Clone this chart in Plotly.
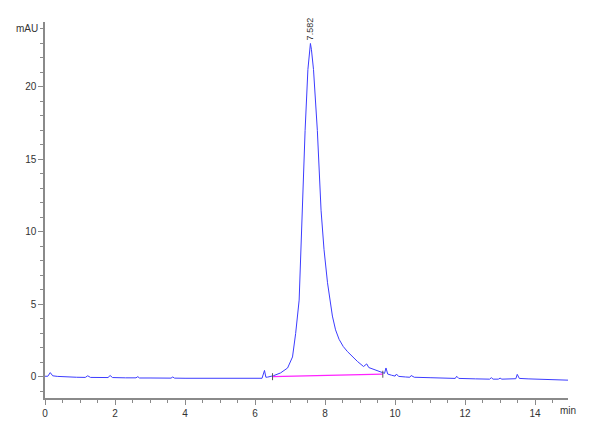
import plotly.graph_objects as go

# Chromatogram trace (time in min, signal in mAU)
time_min = [0.0, 0.08, 0.15, 0.22, 0.35, 0.6, 0.9, 1.15, 1.22, 1.3, 1.6, 1.8, 1.86, 1.93,
            2.3, 2.6, 2.65, 2.7, 3.0, 3.3, 3.6, 3.65, 3.7, 4.0, 4.5, 5.0, 5.5, 5.9, 6.2,
            6.27, 6.31, 6.36, 6.45, 6.53, 6.73, 6.93, 7.07, 7.16, 7.26, 7.31, 7.335, 7.39,
            7.43, 7.51, 7.55, 7.582, 7.61, 7.67, 7.78, 7.886, 7.97, 8.07, 8.21, 8.30, 8.40,
            8.52, 8.64, 8.80, 8.93, 9.1, 9.19, 9.25, 9.46, 9.65, 9.70, 9.74, 9.79, 9.9,
            10.0, 10.04, 10.1, 10.3, 10.42, 10.46, 10.55, 11.0, 11.5, 11.72, 11.76, 11.82,
            12.3, 12.7, 12.75, 12.8, 12.95, 13.0, 13.05, 13.3, 13.45, 13.49, 13.55, 13.8,
            14.0, 14.5, 14.94]
signal_mau = [0.05, 0.05, 0.3, 0.08, 0.04, 0.0, -0.02, -0.03, 0.08, -0.03, -0.04, -0.04, 0.1,
              -0.04, -0.06, -0.06, 0.02, -0.07, -0.07, -0.08, -0.08, 0.0, -0.08, -0.09, -0.1,
              -0.1, -0.1, -0.1, -0.09, 0.45, -0.02, -0.01, 0.02, 0.09, 0.28, 0.62, 1.38, 3.0,
              5.3, 8.8, 11.5, 14.5, 17.0, 21.2, 22.5, 23.0, 22.6, 21.2, 17.0, 11.5, 8.8, 6.5,
              4.2, 3.25, 2.6, 2.1, 1.75, 1.35, 1.06, 0.72, 0.9, 0.65, 0.48, 0.28, 0.25, 0.62,
              0.2, 0.12, 0.06, 0.2, 0.04, 0.0, -0.02, 0.1, -0.02, -0.05, -0.08, -0.1, 0.05,
              -0.1, -0.13, -0.15, -0.05, -0.15, -0.15, -0.08, -0.15, -0.14, -0.12, 0.18, -0.1,
              -0.13, -0.15, -0.18, -0.22]

# Integration baseline
base_t = [6.50, 9.65]
base_v = [0.02, 0.19]

peak_rt = 7.582
peak_h = 23.0
peak_label = "7.582"

x_ticks = [0, 2, 4, 6, 8, 10, 12, 14]
y_ticks = [0, 5, 10, 15, 20]

axis_col = "#8a8a8a"
txt_col = "#333333"

fig = go.Figure()
fig.add_trace(go.Scatter(x=time_min, y=signal_mau, mode="lines",
                         line=dict(color="#3c3cff", width=1), hoverinfo="skip"))
fig.add_trace(go.Scatter(x=base_t, y=base_v, mode="lines+markers",
                         line=dict(color="#ff22ff", width=1.3),
                         marker=dict(symbol="line-ns", size=5, color="#555555",
                                     line=dict(width=1, color="#555555")),
                         hoverinfo="skip"))

fig.add_annotation(x=peak_rt, y=peak_h, text=peak_label, textangle=-90,
                   showarrow=False, yanchor="bottom", xanchor="center", yshift=1,
                   font=dict(family="Liberation Sans, Arial", size=9, color=txt_col))
fig.add_annotation(xref="paper", x=0, y=24.0, text="mAU", showarrow=False,
                   xanchor="right", xshift=-5,
                   font=dict(family="Liberation Sans, Arial", size=10, color=txt_col))
fig.add_annotation(xref="paper", x=1.0, yref="paper", y=0, text="min", showarrow=False,
                   xanchor="center", yanchor="top", xshift=0, yshift=-5,
                   font=dict(family="Liberation Sans, Arial", size=10, color=txt_col))

fig.update_layout(
    width=600, height=440,
    margin=dict(l=45, r=32, t=22, b=42),
    paper_bgcolor="white", plot_bgcolor="white",
    showlegend=False,
    font=dict(family="Liberation Sans, Arial", size=10, color=txt_col),
    xaxis=dict(range=[0, 14.94], tickvals=x_ticks, ticktext=[str(v) for v in x_ticks],
               showgrid=False, zeroline=False, showline=True, linecolor=axis_col,
               linewidth=1.5, ticks="outside", ticklen=5, tickcolor=axis_col, tickwidth=1,
               minor=dict(dtick=0.5, ticks="outside", ticklen=3, tickcolor=axis_col),
               tickfont=dict(size=10, color=txt_col)),
    yaxis=dict(range=[-1.45, 24.48], tickvals=y_ticks, ticktext=[str(v) for v in y_ticks],
               showgrid=False, zeroline=False, showline=True, linecolor=axis_col,
               linewidth=1.5, ticks="outside", ticklen=5, tickcolor=axis_col, tickwidth=1,
               minor=dict(dtick=1, ticks="outside", ticklen=3, tickcolor=axis_col),
               tickfont=dict(size=10, color=txt_col)),
)

fig.write_html("out.html", config={"displayModeBar": False},
               post_script="document.body.style.margin='0';")
